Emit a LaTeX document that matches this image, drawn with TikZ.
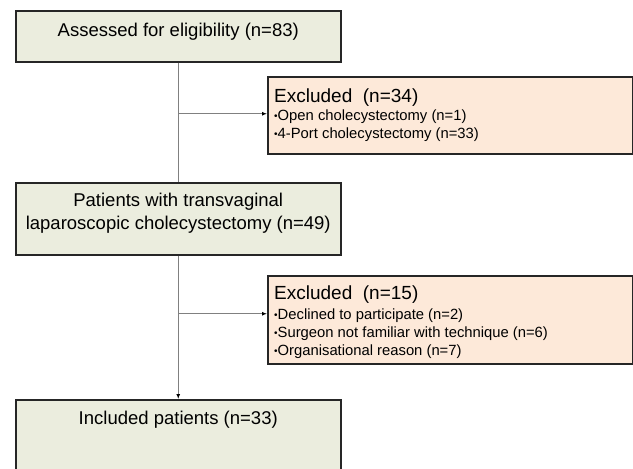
\documentclass[tikz,border=0pt]{standalone}
\usepackage{fontspec}
\setmainfont{Liberation Sans}
\usetikzlibrary{positioning,arrows.meta}
\definecolor{boxgreen}{RGB}{235,237,222}
\definecolor{boxpeach}{RGB}{253,233,217}
\newcommand{\bigtxt}{\fontsize{18.5}{23}\selectfont}
\newcommand{\headtxt}{\fontsize{19}{18}\selectfont}
\newcommand{\smalltxt}{\fontsize{14.8}{18}\selectfont}
\newcommand{\bul}{{\fontsize{10}{10}\selectfont\raisebox{1.3pt}{•}}}
\begin{document}
\begin{tikzpicture}[
        x=1pt, y=1pt,
        greenbox/.style={draw=black!85, line width=1.5pt, fill=boxgreen, minimum width=325pt, anchor=north west, inner sep=0pt},
        peachbox/.style={draw=black!85, line width=1.5pt, fill=boxpeach, minimum width=365pt, anchor=north west, inner sep=0pt},
        boxtext/.style={inner sep=0pt, align=center, font=\bigtxt},
        listtext/.style={inner sep=0pt, align=left, font=\smalltxt},
        link/.style={draw=black!50, line width=1pt}
      ]

      \useasboundingbox (0,0) rectangle (633,-469);

      \node[greenbox, minimum height=51pt] (assessed) at (15,-10) {};
      \node[peachbox, minimum height=77pt] (excl1) at (267,-76) {};
      \node[greenbox, minimum height=72pt] (patients) at (15,-182) {};
      \node[peachbox, minimum height=88pt] (excl2) at (267,-275) {};
      \node[greenbox, minimum height=90pt] (included) at (15,-399) {};

      \node[boxtext, below=13pt of assessed.north] (assessedtxt) {Assessed for eligibility (n=83)};
      \node[boxtext, below=11pt of patients.north] (patientstxt) {Patients with transvaginal\\laparoscopic cholecystectomy (n=49)};
      \node[boxtext, below=12pt of included.north] (includedtxt) {Included patients (n=33)};

      \node[listtext, below right=12.6pt and 7pt of excl1.north west] (excl1txt)
        {{\headtxt Excluded\ \ (n=34)}\\
         \bul Open cholecystectomy (n=1)\\
         \bul 4-Port cholecystectomy (n=33)};
      \node[listtext, below right=10.6pt and 7pt of excl2.north west] (excl2txt)
        {{\headtxt Excluded\ \ (n=15)}\\[2pt]
         \bul Declined to participate (n=2)\\
         \bul Surgeon not familiar with technique (n=6)\\
         \bul Organisational reason (n=7)};

      \coordinate (split1) at ([yshift=1.5pt]assessed.south |- excl1.west);
      \coordinate (split2) at ([yshift=6pt]patients.south |- excl2.west);

      \draw[link] (assessed.south) -- (patients.north);
      \draw[link, -{Latex[black,length=5pt,width=4pt]}] (split1) -- (split1 -| excl1.west);
      \draw[link, -{Latex[black,length=5pt,width=4pt]}] (split2) -- (split2 -| excl2.west);
      \draw[link, -{Latex[black,length=5pt,width=4pt]}] (patients.south) -- (included.north);
    \end{tikzpicture}
\end{document}
